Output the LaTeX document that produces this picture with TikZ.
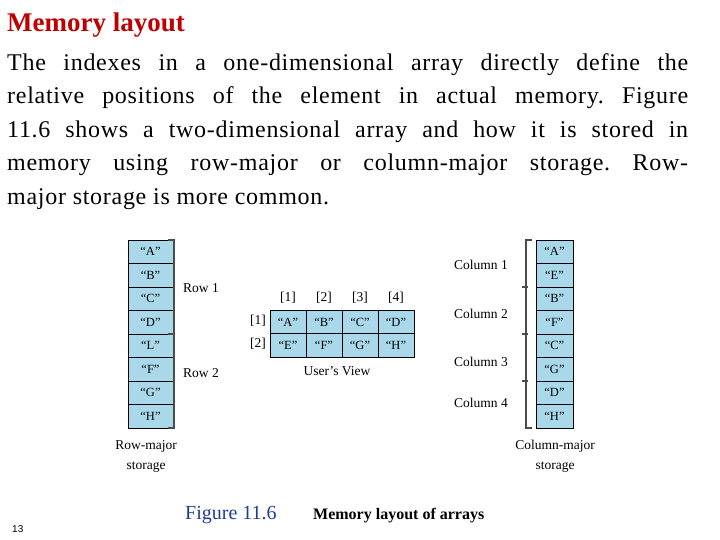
\documentclass[tikz,border=0pt]{standalone}
\usepackage{fontspec}
\setmainfont{Liberation Serif}
\newfontfamily\slidesans{Liberation Sans}
\newfontfamily\bodyfont[LetterSpace=3]{Liberation Serif}
\begin{document}
\begin{tikzpicture}[x=1pt,y=-1pt,
  cell/.style={draw=black,fill=cellblue,line width=0.8pt,minimum height=23.5pt,inner sep=0pt,font=\fontsize{12.5}{12.5}\selectfont},
  lab/.style={font=\fontsize{13.5}{14}\selectfont,inner sep=0pt},
  brk/.style={draw=black!70,line width=1.3pt}]
\definecolor{cellblue}{HTML}{A8D8EA}
\definecolor{titlered}{HTML}{C00000}
\definecolor{capblue}{HTML}{1F3C96}
\useasboundingbox (0,0) rectangle (720,540);
\node[anchor=west,text=titlered,font=\fontsize{27}{27}\selectfont\bfseries,inner sep=0pt] (title) at (7,25) {Memory layout};
\node[anchor=north west,inner sep=0pt,text width=681pt,align=justify,font=\bodyfont\fontsize{24}{33.5}\selectfont] (body) at (7,53)
 {\frenchspacing\hyphenpenalty=10000 The indexes in a one-dimensional array directly define the\linebreak relative positions of the element in actual memory. Figure\linebreak 11.6 shows a two-dimensional array and how it is stored in\linebreak memory using row-major or column-major storage. Row-\linebreak major storage is more common.};
% row-major column
\foreach \t [count=\i] in {A,B,C,D,L,F,G,H}
  \node[cell,minimum width=45pt] (r\i) at (150.5,{240+23.5*(\i-0.5)}) {``\t''};
\coordinate (rb1) at (174,240); \coordinate (rb2) at (174,334); \coordinate (rb3) at (174,428);
\draw[brk] ([xshift=-6pt]rb1) -- (rb1) -- (rb3) -- ([xshift=-6pt]rb3);
\draw[brk] ([xshift=-6pt]rb2) -- (rb2);
\node[lab] (row1) at (201,288) {Row 1};
\node[lab] (row2) at (201,373) {Row 2};
\node[lab] (rm1) at (146,446) {Row-major};
\node[lab] (rm2) at (146,467) {storage};
% user's view
\foreach \t [count=\i] in {A,B,C,D}
  \node[cell,minimum width=36pt] (u1\i) at ({270+36*(\i-0.5)},322.5) {``\t''};
\foreach \t [count=\i] in {E,F,G,H}
  \node[cell,minimum width=36pt] (u2\i) at ({270+36*(\i-0.5)},345.5) {``\t''};
\foreach \i in {1,...,4}
  \node[lab] (ch\i) at ({270+36*(\i-0.5)},298) {[\i]};
\node[lab] (rh1) at (258,321) {[1]};
\node[lab] (rh2) at (258,344) {[2]};
\node[lab] (uv) at (337,371) {User's View};
% column-major
\foreach \t [count=\i] in {A,E,B,F,C,G,D,H}
  \node[cell,minimum width=37pt] (c\i) at (554.5,{240+23.5*(\i-0.5)}) {``\t''};
\coordinate (cb1) at (526,240); \coordinate (cb5) at (526,428);
\draw[brk] ([xshift=6pt]cb1) -- (cb1) -- (cb5) -- ([xshift=6pt]cb5);
\foreach \y in {287,334,381} \draw[brk] (522,\y) -- (528,\y);
\node[lab] (col1) at (481,265) {Column 1};
\node[lab] (col2) at (481,314) {Column 2};
\node[lab] (col3) at (481,362) {Column 3};
\node[lab] (col4) at (481,403) {Column 4};
\node[lab] (cm1) at (555,446) {Column-major};
\node[lab] (cm2) at (555,467) {storage};
% caption
\node[anchor=base west,inner sep=0pt,text=capblue,font=\fontsize{20}{20}\selectfont] (cap1) at (185,519) {Figure 11.6};
\node[anchor=base west,inner sep=0pt,font=\fontsize{16}{16}\selectfont\bfseries] (cap2) at (313,519) {Memory layout of arrays};
\node[anchor=base west,inner sep=0pt,font=\slidesans\fontsize{10}{10}\selectfont] (pg) at (12,532) {13};
\end{tikzpicture}
\end{document}
